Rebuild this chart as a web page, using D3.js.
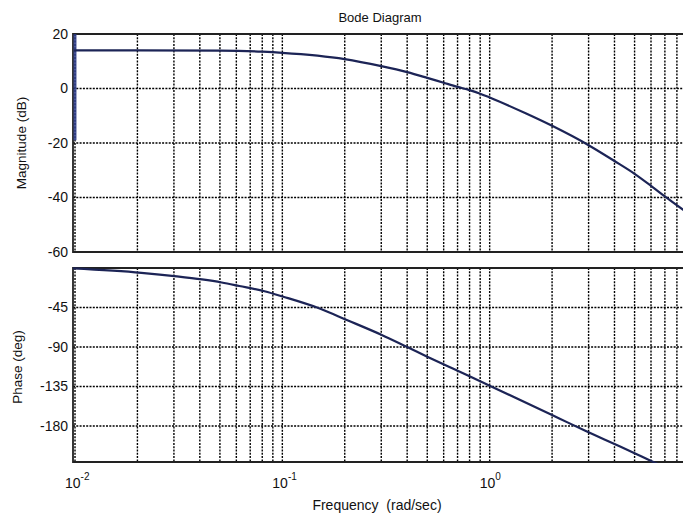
<!DOCTYPE html>
<html>
<head>
<meta charset="utf-8">
<script src="https://cdn.jsdelivr.net/npm/d3@7/dist/d3.min.js"></script>
<style>
  html, body { margin: 0; padding: 0; background: #fff; }
  svg { display: block; }
  text { font-family: "Liberation Sans", Arial, sans-serif; fill: #111; }
</style>
</head>
<body>
<svg id="chart" width="683" height="515"></svg>
<script>
// ---- data ----
const freqDomain = [0.00978, 10];
const freqTicks = [0.01, 0.1, 1];
const freqTickExp = ["-2", "-1", "0"];
const magTicks = [20, 0, -20, -40, -60];
const phaseTicks = [-45, -90, -135, -180];
const magDomain = [-60, 20];
const phaseDomain = [-221, 0];

// short vertical trace along the left edge of the magnitude plot
const magEdgeDb = [-19, 20];

const magFreq = [0.0099, 0.02, 0.05, 0.08, 0.1, 0.2, 0.3, 0.4, 0.5, 0.6, 0.7, 0.8, 0.9, 1.0, 1.5, 2.0, 3.0, 4.0, 5.0, 6.0, 7.0, 8.6];
const magDb   = [14, 14, 13.9, 13.5, 13.1, 10.8, 8.2, 6.0, 3.9, 2.1, 0.6, -0.6, -1.9, -3.3, -9.2, -13.7, -20.8, -26.6, -31.3, -35.7, -39.6, -44.6];

const phaseFreq = [0.00978, 0.0209, 0.031, 0.041, 0.051, 0.062, 0.082, 0.102, 0.148, 0.206, 0.30, 0.40, 0.50, 0.66, 0.90, 1.0, 2.0, 2.43, 3.0, 4.0, 5.0, 5.9, 6.5];
const phaseDeg  = [-0.5, -5.5, -9.5, -13, -16.5, -20.5, -26.5, -33, -45.3, -59.5, -76, -90, -101, -114.3, -129, -134, -167.5, -177, -187, -200.5, -211, -219, -223.5];

// ---- layout ----
const svg = d3.select("#chart");
const left = 73, right = 697;
const magTop = 34, magBottom = 252;
const phTop = 268, phBottom = 462;
const lineColor = "#1c2456";

const x = d3.scaleLog().domain(freqDomain).range([left, right]);
const yMag = d3.scaleLinear().domain(magDomain).range([magBottom, magTop]);
const yPh = d3.scaleLinear().domain(phaseDomain).range([phBottom, phTop]);

// grid frequencies: 1..9 per decade
const gridFreqs = [];
for (let e = -2; e <= 0; e++) {
  for (let m = 1; m <= 9; m++) gridFreqs.push(m * Math.pow(10, e));
}
gridFreqs.push(10);

function panel(id, y, top, bottom, yTicks) {
  const g = svg.append("g");
  svg.append("clipPath").attr("id", id).append("rect")
    .attr("x", left - 3).attr("y", top - 1).attr("width", right - left + 3).attr("height", bottom - top + 2);
  g.selectAll("line.vg").data(gridFreqs.filter(f => f >= freqDomain[0])).join("line")
    .attr("x1", d => x(d)).attr("x2", d => x(d))
    .attr("y1", top).attr("y2", bottom)
    .attr("stroke", "#000").attr("stroke-width", 1.4).attr("stroke-dasharray", "2,1.3");
  g.selectAll("line.hg").data(yTicks).join("line")
    .attr("x1", left).attr("x2", right)
    .attr("y1", d => y(d)).attr("y2", d => y(d))
    .attr("stroke", "#000").attr("stroke-width", 1.4).attr("stroke-dasharray", "2,1.3");
  g.append("path")
    .attr("d", `M${right},${top}H${left}V${bottom}H${right}`)
    .attr("fill", "none").attr("stroke", "#222").attr("stroke-width", 1.8);
  const ax = d3.axisLeft(y).tickValues(yTicks).tickSize(0).tickPadding(5).tickFormat(d => String(d));
  const ag = svg.append("g").attr("transform", `translate(${left},0)`).call(ax);
  ag.select(".domain").remove();
  ag.selectAll("text").style("font-size", "14px").style("font-family", "Liberation Sans, Arial, sans-serif").attr("fill", "#111");
  return g;
}

panel("clipMag", yMag, magTop, magBottom, magTicks);
panel("clipPh", yPh, phTop, phBottom, phaseTicks);

// curves
svg.append("path")
  .datum(magEdgeDb)
  .attr("d", d3.line().x(() => x(freqDomain[0]) + 2).y(d => yMag(d)))
  .attr("fill", "none").attr("stroke", "#2a3a8a").attr("stroke-width", 3).attr("opacity", 0.85);

const magLine = d3.line().x(d => x(d[0])).y(d => yMag(d[1])).curve(d3.curveMonotoneX);
svg.append("path")
  .datum(magFreq.map((f, i) => [f, magDb[i]]))
  .attr("clip-path", "url(#clipMag)")
  .attr("d", magLine)
  .attr("fill", "none").attr("stroke", lineColor).attr("stroke-width", 2.2);

const phLine = d3.line().x(d => x(d[0])).y(d => yPh(d[1])).curve(d3.curveMonotoneX);
svg.append("path")
  .datum(phaseFreq.map((f, i) => [f, phaseDeg[i]]))
  .attr("clip-path", "url(#clipPh)")
  .attr("d", phLine)
  .attr("fill", "none").attr("stroke", lineColor).attr("stroke-width", 2.2);

// x tick labels (10^n)
const xl = svg.append("g");
freqTicks.forEach((f, i) => {
  const t = xl.append("text")
    .attr("x", x(f) - 10).attr("y", 488)
    .attr("text-anchor", "start")
    .style("font-size", "14px");
  t.append("tspan").text("10");
  t.append("tspan").attr("dy", -8).style("font-size", "10px").text(freqTickExp[i]);
});

// titles
svg.append("text").attr("x", 380).attr("y", 22).attr("text-anchor", "middle")
  .style("font-size", "13px").text("Bode Diagram");
svg.append("text").attr("x", 377).attr("y", 510).attr("text-anchor", "middle")
  .style("font-size", "14px").attr("xml:space", "preserve").text("Frequency  (rad/sec)");
svg.append("text").attr("transform", "translate(26,143) rotate(-90)").attr("text-anchor", "middle")
  .style("font-size", "13.5px").text("Magnitude (dB)");
svg.append("text").attr("transform", "translate(22,367) rotate(-90)").attr("text-anchor", "middle")
  .style("font-size", "13.5px").text("Phase (deg)");
</script>
</body>
</html>
